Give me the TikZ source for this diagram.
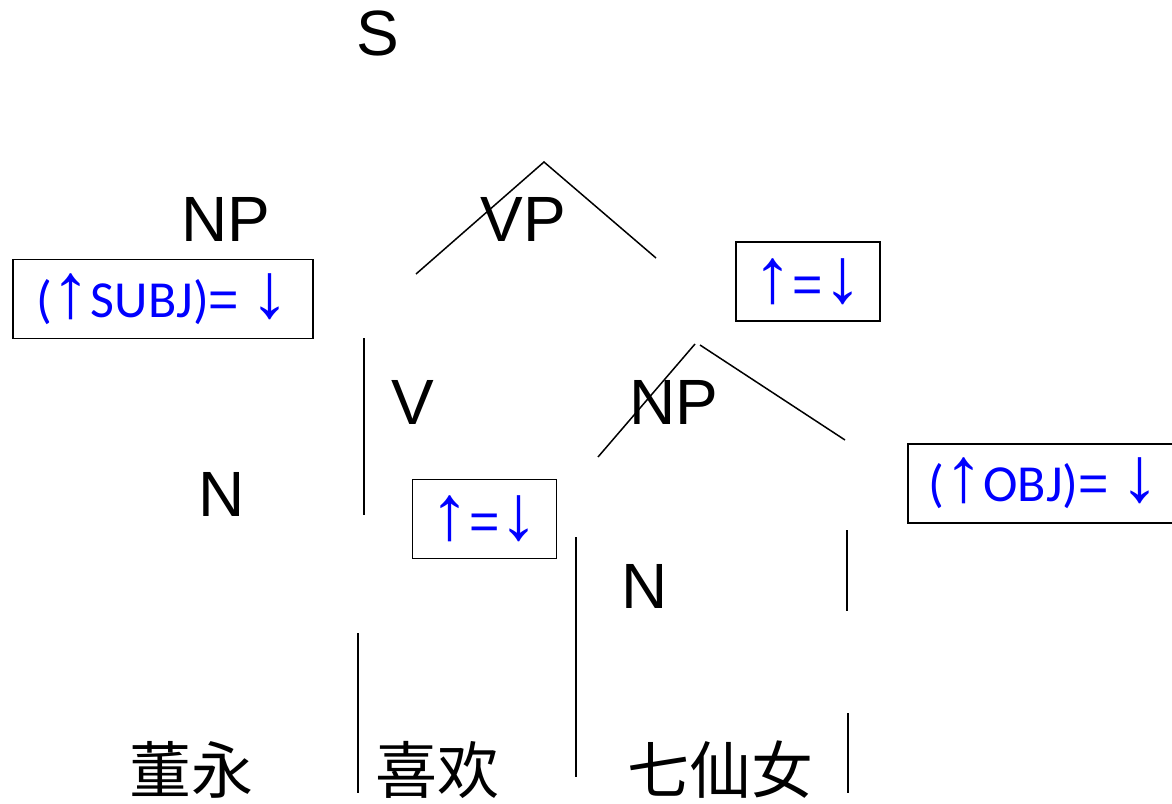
\documentclass[tikz,border=0pt]{standalone}
\usepackage{fontspec}
\setmainfont{Liberation Sans}
\newfontfamily\featfont{Carlito}
\newfontfamily\arrowfont{Liberation Sans}
\newfontfamily\cjk{Noto Sans CJK SC}
\newcommand{\uparr}{{\arrowfont\fontsize{78}{78}\selectfont ↑}}
\newcommand{\dnarr}{{\arrowfont\fontsize{78}{78}\selectfont ↓}}
\newcommand{\eqsign}{{\arrowfont =}}
\begin{document}
\begin{tikzpicture}[x=1pt,y=-1pt,line width=1.5pt,
        cat/.style={font=\fontsize{64}{64}\selectfont,inner sep=0pt},
        feat/.style={draw,thick,line width=1.5pt,text=blue,font=\featfont\fontsize{52}{52}\selectfont,inner sep=0pt},
        word/.style={font=\cjk\fontsize{62}{62}\selectfont,inner sep=0pt}]
        \useasboundingbox (0,0) rectangle (1172,803);
        \clip (0,0) rectangle (1172,803);

        \node (S) at (378,33) [cat] {S};
        \node (NPsubj) at (226,219.5) [cat] {NP};
        \node (VP) at (523,219.5) [cat] {VP};
        \node (V) at (413,402.5) [cat] {V};
        \node (NPobj) at (674,402.5) [cat] {NP};
        \node (Nsubj) at (221.5,494) [cat] {N};
        \node (Nobj) at (645,586.5) [cat] {N};

        \node (fsubj) at (163,299) [feat,minimum width=300pt,minimum height=79pt] {(\uparr SUBJ)\eqsign\ \dnarr};
        \node (fvp) at (808,281.5) [feat,minimum width=144pt,minimum height=79pt] {\uparr\eqsign\dnarr};
        \node (fv) at (484.5,519) [feat,minimum width=144pt,minimum height=79pt] {\uparr\eqsign\dnarr};
        \node (fobj) at (1044,483.5) [feat,minimum width=272pt,minimum height=79pt] {(\uparr OBJ)\eqsign\ \dnarr};

        \node (dongyong) at (191,770) [word] {董永};
        \node (xihuan) at (437,770) [word] {喜欢};
        \node (xiannv) at (720,770) [word] {七仙女};

        % branches
        \coordinate (vpTop) at (544,162);
        \coordinate (vpL) at (416,274);
        \coordinate (vpR) at (656,258);
        \coordinate (npTopL) at (695,344);
        \coordinate (npTopR) at (700,345);
        \coordinate (npL) at (598,457);
        \coordinate (npR) at (845,440);
        \coordinate (vA) at (364,338);
        \coordinate (vB) at (364,515);
        \coordinate (nA) at (576,537);
        \coordinate (nB) at (576,777);
        \coordinate (oA) at (847,530);
        \coordinate (oB) at (847,611);
        \coordinate (wA) at (358,633);
        \coordinate (wB) at (358,793);
        \coordinate (wC) at (848,713);
        \coordinate (wD) at (848,793);

        \draw (vpL) -- (vpTop) -- (vpR);
        \draw (npL) -- (npTopL);
        \draw (npTopR) -- (npR);
        \draw (vA) -- (vB);
        \draw (nA) -- (nB);
        \draw (oA) -- (oB);
        \draw (wA) -- (wB);
        \draw (wC) -- (wD);
    \end{tikzpicture}
\end{document}
